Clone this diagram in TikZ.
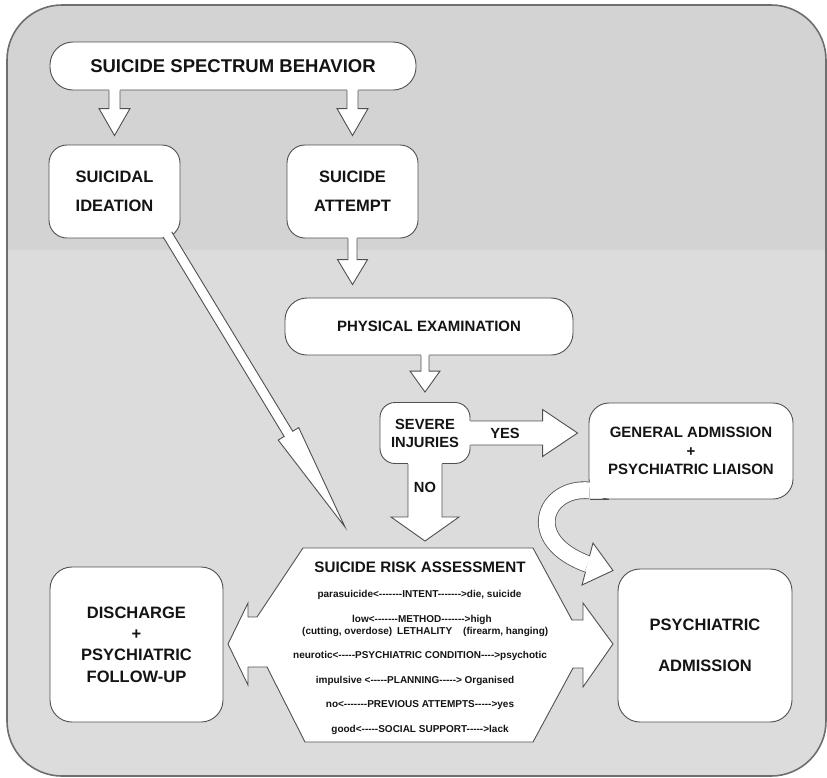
\documentclass[tikz,border=0pt]{standalone}
\usepackage{fontspec}
\setmainfont{Liberation Sans}[Ligatures=TeXOff]
\usetikzlibrary{calc}
\definecolor{bgtop}{RGB}{211,211,211}
\definecolor{bgbot}{RGB}{220,220,220}
\definecolor{edge}{RGB}{80,80,80}
\definecolor{outer}{RGB}{110,110,110}
\definecolor{ink}{RGB}{20,20,20}
\newcommand\fsz[2]{\fontsize{#1}{#2}\selectfont\bfseries}
\newcommand\blockarrow[5]{%
  \coordinate (ba) at ($(#1)!-2pt!(#2)$);
  \coordinate (bh) at ($(#2)!#5!(#1)$);
  \fill[white] ($(ba)!#3!90:(#2)$) -- ($(bh)!#3!90:(#2)$) -- ($(bh)!#4!90:(#2)$) -- (#2)
     -- ($(bh)!#4!-90:(#2)$) -- ($(bh)!#3!-90:(#2)$) -- ($(ba)!#3!-90:(#2)$) -- cycle;
  \draw[arrowline] ($(#1)!#3!90:(#2)$) -- ($(bh)!#3!90:(#2)$) -- ($(bh)!#4!90:(#2)$) -- (#2)
     -- ($(bh)!#4!-90:(#2)$) -- ($(bh)!#3!-90:(#2)$) -- ($(#1)!#3!-90:(#2)$);
}
\begin{document}
\begin{tikzpicture}[x=1pt,y=-1pt,
  boxline/.style={draw=edge, line width=0.9pt},
  box/.style={boxline, fill=white, inner sep=0pt, align=center, text=ink},
  arrowline/.style={draw=edge, line width=0.9pt, line join=miter},
  small/.style={inner sep=0pt, text=ink, font=\fsz{10}{12}}]
\useasboundingbox (0,0) rectangle (827,777);
% background
\begin{scope}
  \clip[rounded corners=55pt] (7,5) rectangle (826,776);
  \fill[bgtop] (0,0) rectangle (827,250);
  \fill[bgbot] (0,250) rectangle (827,777);
\end{scope}
\draw[draw=outer, line width=1.6pt, rounded corners=55pt] (7,5) rectangle (826,776);

% boxes
\node[box, rounded corners=23pt, minimum width=366pt, minimum height=48pt, font=\fsz{18.5}{22}] (title) at (233,66)
  {SUICIDE SPECTRUM BEHAVIOR};
\node[box, rounded corners=18pt, minimum width=131pt, minimum height=93pt, font=\fsz{16.5}{29}] (ideation) at (114.5,191.5)
  {SUICIDAL\\IDEATION};
\node[box, rounded corners=18pt, minimum width=131pt, minimum height=93pt, font=\fsz{16.5}{29}] (attempt) at (352.5,191.5)
  {SUICIDE\\ATTEMPT};
\node[box, rounded corners=22pt, minimum width=288pt, minimum height=57pt, font=\fsz{15}{18}] (phys) at (429,326.5)
  {PHYSICAL EXAMINATION};
\node[box, rounded corners=15pt, minimum width=90pt, minimum height=61pt, font=\fsz{14.7}{18}] (severe) at (425,433)
  {SEVERE\\INJURIES};
\node[box, rounded corners=20pt, minimum width=204pt, minimum height=96pt, font=\fsz{15}{18.5}] (GA) at (691,451)
  {GENERAL ADMISSION\\+\\PSYCHIATRIC LIAISON};
\node[box, rounded corners=22pt, minimum width=173pt, minimum height=155pt, font=\fsz{16.5}{21.3}] (discharge) at (136.5,644.5)
  {DISCHARGE\\+\\PSYCHIATRIC\\FOLLOW-UP};
\node[box, rounded corners=22pt, minimum width=174pt, minimum height=153pt, font=\fsz{16.5}{41}] (psychadm) at (705,645.5)
  {PSYCHIATRIC\\ADMISSION};

% risk assessment double-headed hexagon
\coordinate (hexTL) at (303,548);
\coordinate (riskN) at (425,548);
\draw[boxline, fill=white, line join=miter] (hexTL) -- (533,548) -- (572,620) -- (583,620) -- (583,603)
  -- (613,644) -- (583,687) -- (583,668) -- (573,668) -- (533,742) -- (305,742) -- (267,667)
  -- (248,667) -- (248,685) -- (228,644) -- (248,603) -- (248,617) -- (257,617) -- cycle;
\node[anchor=base, inner sep=0pt, text=ink, font=\fsz{15.2}{18}] (rtitle) at (420,572)
  {SUICIDE RISK ASSESSMENT};
\node[small, anchor=base] (r1) at (419.5,597.5) {parasuicide<-------INTENT------->die, suicide};
\node[small, anchor=base west] (r2a) at (352,622) {low<-------METHOD------->high};
\node[small, anchor=base west] (r2b) at (302,634.5) {(cutting, overdose)};
\node[small, anchor=base west] (r2c) at (397,634.5) {LETHALITY};
\node[small, anchor=base west] (r2d) at (463,634.5) {(firearm, hanging)};
\node[small, anchor=base] (r3) at (420,658.5) {neurotic<-----PSYCHIATRIC CONDITION---->psychotic};
\node[small, anchor=base] (r4) at (415,683) {impulsive <-----PLANNING-----> Organised};
\node[small, anchor=base] (r5) at (420,707) {no<-------PREVIOUS ATTEMPTS----->yes};
\node[small, anchor=base] (r6) at (420,732) {good<-----SOCIAL SUPPORT----->lack};

% block arrows
\coordinate (a1) at (title.south -| ideation.north);
\coordinate (t1) at ($(ideation.north)+(0,-9)$);
\blockarrow{a1}{t1}{5.5pt}{15.5pt}{27pt}
\coordinate (a2) at (title.south -| attempt.north);
\coordinate (t2) at ($(attempt.north)+(0,-9)$);
\blockarrow{a2}{t2}{5.5pt}{15.5pt}{27pt}
\coordinate (a3) at (attempt.south);
\coordinate (t3) at ($(attempt.south |- phys.north)+(0,-13)$);
\blockarrow{a3}{t3}{4.5pt}{15pt}{25pt}
\coordinate (a4) at (severe.north |- phys.south);
\coordinate (t4) at ($(severe.north)+(0,-10)$);
\blockarrow{a4}{t4}{4pt}{15pt}{21pt}
\coordinate (a5) at (severe.east);
\coordinate (t5) at ($(severe.east -| GA.west)+(-11,0)$);
\blockarrow{a5}{t5}{12pt}{23.5pt}{35pt}
\coordinate (a6) at (severe.south);
\coordinate (t6) at ($(riskN)+(0,-7)$);
\blockarrow{a6}{t6}{17pt}{34pt}{24pt}
\coordinate (a7) at ($(ideation.south east)+(-13,-4)$);
\coordinate (t7) at ($(hexTL)+(42,-21)$);
\blockarrow{a7}{t7}{5pt}{12pt}{109pt}
\node[inner sep=0pt, text=ink, font=\fsz{14.7}{18}] (yes) at (505,433) {YES};
\node[inner sep=0pt, text=ink, font=\fsz{14.7}{18}] (no) at (425,487) {NO};

% curved ribbon arrow from GA to psychiatric admission
\coordinate (rb0) at ($(GA.south west)+(1,-9)$);
\coordinate (hc) at (587.5,564);
\coordinate (hu) at (593,543);
\coordinate (hl) at (582,585);
\coordinate (htip) at (613,570.5);
\coordinate (su) at (589.5,556.2);
\coordinate (sl) at (585.5,571.8);
\draw[edge, line width=17.6pt] (rb0) .. controls (545,486) and (522,540) .. (hc);
\draw[white, line width=16pt] (rb0) .. controls (545,486) and (522,540) .. (hc);
\fill[white] (hu) -- (htip) -- (hl) -- cycle;
\draw[arrowline] (su) -- (hu) -- (htip) -- (hl) -- (sl);
\fill[white] (589.5,482.6) rectangle (606,498.3);
\draw[boxline] (589.6,499) -- (609,499);
\end{tikzpicture}
\end{document}
